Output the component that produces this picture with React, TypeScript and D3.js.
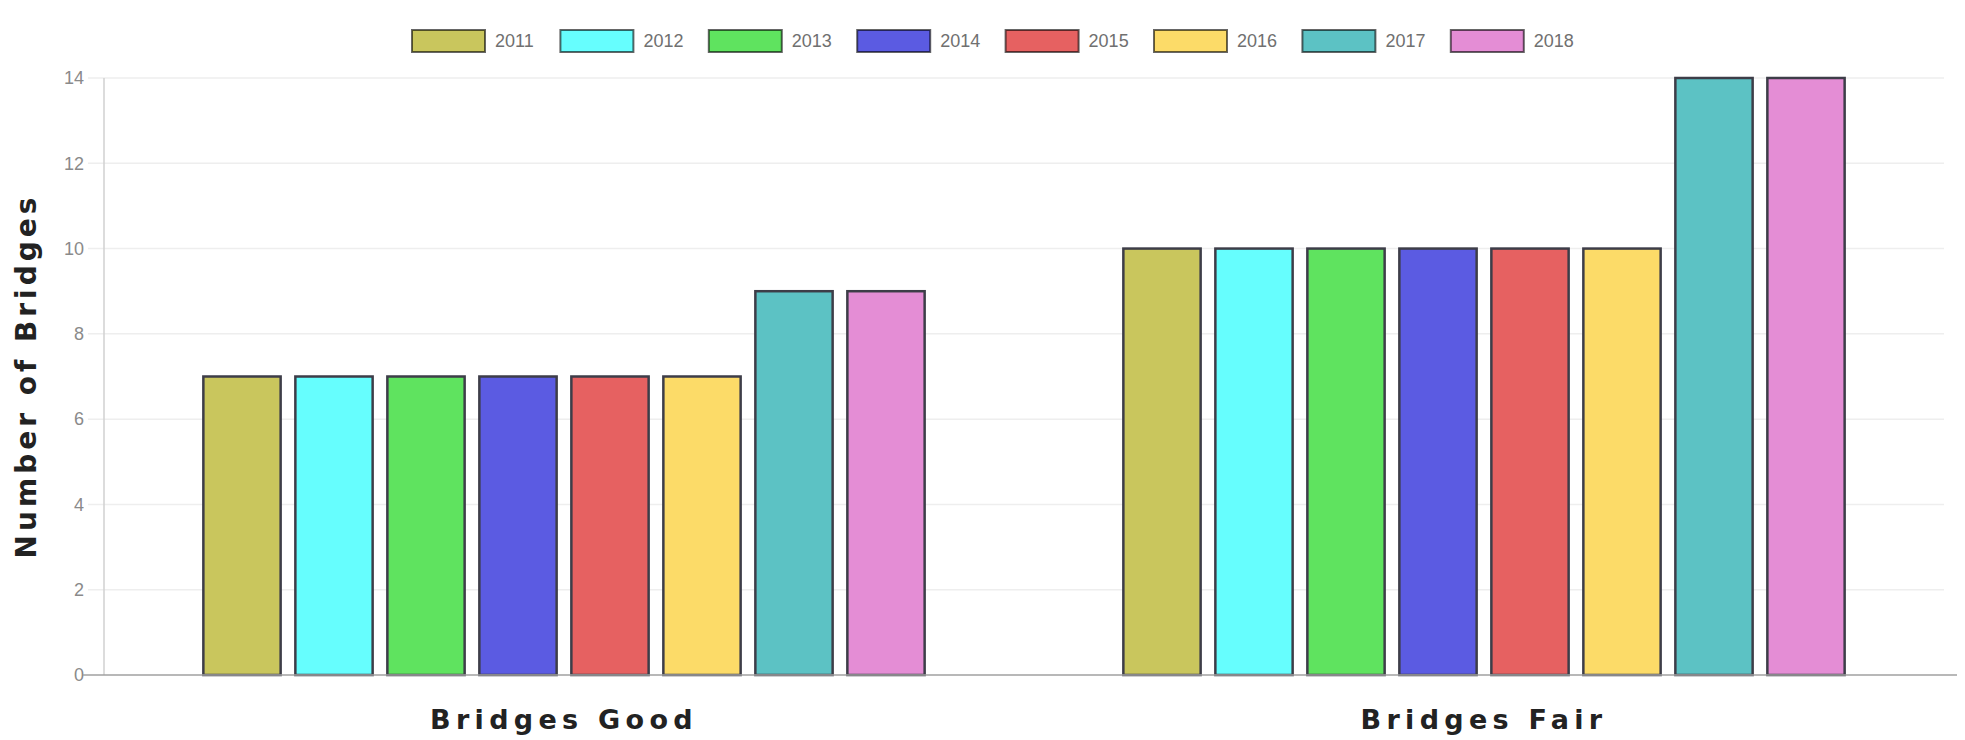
import React from "react";
import * as d3 from "d3";

const categories = ["Bridges Good", "Bridges Fair"];
const years = ["2011", "2012", "2013", "2014", "2015", "2016", "2017", "2018"];
const values2011 = [7, 10];
const values2012 = [7, 10];
const values2013 = [7, 10];
const values2014 = [7, 10];
const values2015 = [7, 10];
const values2016 = [7, 10];
const values2017 = [9, 14];
const values2018 = [9, 14];
const seriesValues = [values2011, values2012, values2013, values2014, values2015, values2016, values2017, values2018];
const colors = ["#c9c65d", "#66fefe", "#5fe35f", "#5b5be2", "#e66161", "#fcdb68", "#5cc2c4", "#e48dd5"];
const yTicks = [0, 2, 4, 6, 8, 10, 12, 14];

const W = 1965;
const H = 740;
const left = 104;
const right = 1944;
const top = 78;
const bottom = 675;

export default function App() {
  const x0 = d3.scaleBand<string>().domain(categories).range([left, right]).paddingInner(0.2).paddingOuter(0.1);
  const x1 = d3.scaleBand<string>().domain(years).range([0, x0.bandwidth()]).paddingInner(0.16).paddingOuter(0.08);
  const y = d3.scaleLinear().domain([0, 14]).range([bottom, top]);

  const legendStart = 412;
  const legendStep = 148.4;

  return (
    <svg width={W} height={H} style={{ position: "absolute", left: 0, top: 0, background: "#fff" }}>
      {yTicks.map((t) => (
        <g key={t}>
          {t !== 0 && <line x1={88} x2={right} y1={y(t)} y2={y(t)} stroke="#eeeeee" strokeWidth={1.5} />}
          <text x={84} y={y(t)} dy="0.35em" textAnchor="end" fontFamily="Liberation Sans, Arial, sans-serif" fontSize={18} fill="#8a8a8a">
            {t}
          </text>
        </g>
      ))}
      <line x1={left} x2={left} y1={top} y2={bottom} stroke="#d0d0d0" strokeWidth={1.5} />
      {categories.map((c, ci) => (
        <g key={c}>
          {years.map((yr, si) => {
            const v = seriesValues[si][ci];
            const bx = (x0(c) as number) + (x1(yr) as number);
            return (
              <rect
                key={yr}
                x={bx}
                y={y(v)}
                width={x1.bandwidth()}
                height={y(0) - y(v)}
                fill={colors[si]}
                stroke="#3d3d48"
                strokeWidth={2.5}
              />
            );
          })}
          <text
            x={(x0(c) as number) + x0.bandwidth() / 2}
            y={729}
            textAnchor="middle"
            fontFamily="DejaVu Sans, sans-serif"
            fontWeight="bold"
            fontSize={27}
            letterSpacing={5.3}
            fill="#222"
          >
            {c}
          </text>
        </g>
      ))}
      <line x1={83} x2={1957} y1={bottom} y2={bottom} stroke="#a0a0a0" strokeWidth={1.5} />
      <text
        transform={`translate(36, ${(194 + 558) / 2}) rotate(-90)`}
        textAnchor="middle"
        fontFamily="DejaVu Sans, sans-serif"
        fontWeight="bold"
        fontSize={28}
        letterSpacing={4}
        fill="#222"
      >
        Number of Bridges
      </text>
      {years.map((yr, i) => {
        const lx = legendStart + i * legendStep;
        return (
          <g key={yr}>
            <rect x={lx} y={30} width={73} height={22} fill={colors[i]} stroke="rgba(0,0,0,0.6)" strokeWidth={2} />
            <text x={lx + 83} y={41} dy="0.35em" fontFamily="Liberation Sans, Arial, sans-serif" fontSize={18} fill="#707070">
              {yr}
            </text>
          </g>
        );
      })}
    </svg>
  );
}
